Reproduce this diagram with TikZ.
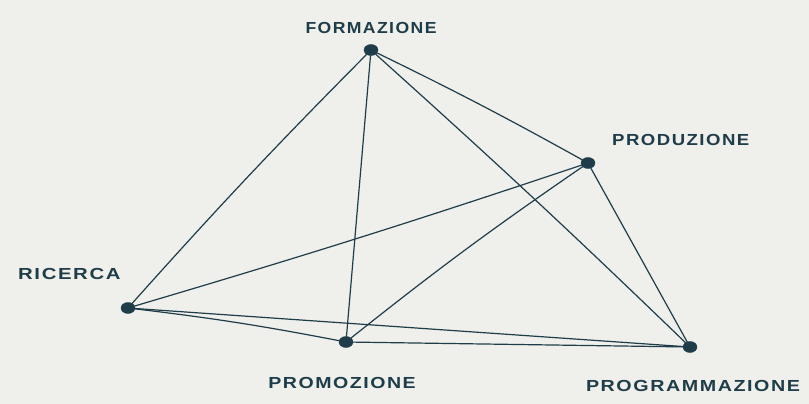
\documentclass[tikz,border=0pt]{standalone}
\usepackage{fontspec}
\setsansfont[LetterSpace=8]{Liberation Sans}
\definecolor{ink}{HTML}{1F3D48}
\definecolor{paper}{HTML}{EFEFEC}
\usetikzlibrary{shapes.geometric}
\newcommand{\wlab}[2]{\scalebox{#1}[1]{#2}}
\tikzset{
  dot/.style={ellipse, fill=ink, draw=ink, minimum width=14pt, minimum height=11pt, inner sep=0pt},
  lab/.style={text=ink, font=\sffamily\bfseries\fontsize{16}{18}\selectfont, inner sep=0pt},
  edge/.style={draw=ink, line width=1.2pt, line cap=round}
}
\begin{document}
\begin{tikzpicture}[x=1pt,y=-1pt]
\fill[paper] (0,0) rectangle (809,404);
\useasboundingbox (0,0) rectangle (809,404);
\draw[edge] (371,50) to[bend right=1.5] (128,308);
\node[dot] (F) at (371,50) {};
\node[dot] (P) at (588,163) {};
\node[dot] (R) at (128,308) {};
\node[dot] (M) at (346,342) {};
\node[dot] (G) at (690,347) {};
\node[lab] (lF) at (371,28) {\wlab{1.1}{FORMAZIONE}};
\node[lab, anchor=west] (lP) at (612,140) {\wlab{1.16}{PRODUZIONE}};
\node[lab, anchor=west] (lR) at (18,274) {\wlab{1.27}{RICERCA}};
\node[lab] (lM) at (342,383) {\wlab{1.22}{PROMOZIONE}};
\node[lab] (lG) at (693,386) {\wlab{1.23}{PROGRAMMAZIONE}};
\draw[edge] (F) -- (M);
\draw[edge] (F) to[bend left=1.5] (P);
\draw[edge] (F) to[bend left=1] (G);
\draw[edge] (P) to[bend left=1] (R);
\draw[edge] (P) to[bend right=2] (M);
\draw[edge] (P) -- (G);
\draw[edge] (R) to[bend left=2] (M);
\draw[edge] (R) -- (G);
\draw[edge] (M) -- (G);
\end{tikzpicture}
\end{document}
